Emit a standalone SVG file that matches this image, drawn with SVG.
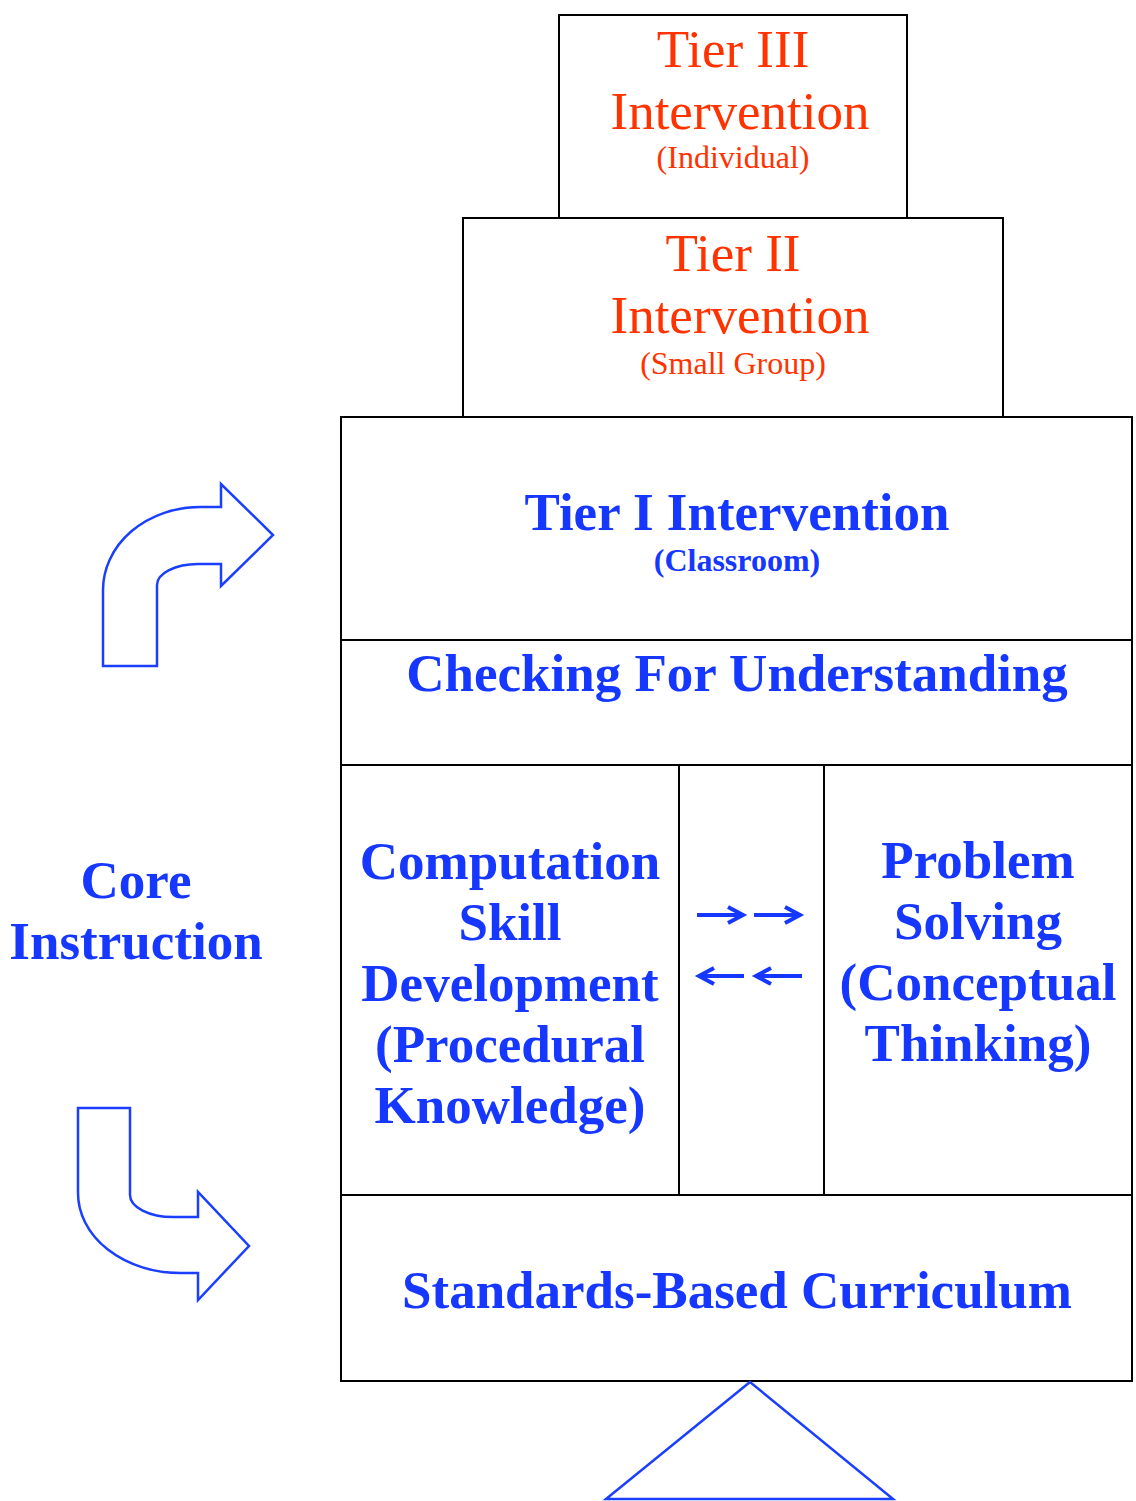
<svg xmlns="http://www.w3.org/2000/svg" width="1136" height="1501" viewBox="0 0 1136 1501">
<style>
.box{fill:none;stroke:#000;stroke-width:2}
.red{font-family:"Liberation Serif",serif;fill:#ff3300;text-anchor:middle}
.blue{font-family:"Liberation Serif",serif;font-weight:bold;fill:#1637ff;text-anchor:middle}
.big{font-size:53px}
.small{font-size:32px}
.shape{fill:none;stroke:#1a3fff;stroke-width:2.5;stroke-linejoin:miter}
.sm{fill:none;stroke:#1637ff;stroke-width:4}
</style>
<rect width="1136" height="1501" fill="#fff"/>
<g id="tier3">
<rect class="box" x="559" y="15" width="348" height="203"/>
<text class="red big" x="733" y="67">Tier III</text>
<text class="red big" x="740" y="129">Intervention</text>
<text class="red small" x="733" y="168">(Individual)</text>
</g>
<g id="tier2">
<rect class="box" x="463" y="218" width="540" height="199"/>
<text class="red big" x="733" y="271">Tier II</text>
<text class="red big" x="740" y="333">Intervention</text>
<text class="red small" x="733" y="374">(Small Group)</text>
</g>
<g id="tier1">
<rect class="box" x="341" y="417" width="791" height="223"/>
<text class="blue big" x="737" y="530">Tier I Intervention</text>
<text class="blue small" x="737" y="571">(Classroom)</text>
</g>
<g id="checking">
<rect class="box" x="341" y="640" width="791" height="125"/>
<text class="blue big" x="737" y="691">Checking For Understanding</text>
</g>
<g id="computation">
<rect class="box" x="341" y="765" width="338" height="430"/>
<text class="blue big"><tspan x="510" y="879">Computation</tspan><tspan x="510" y="940">Skill</tspan><tspan x="510" y="1001">Development</tspan><tspan x="510" y="1062">(Procedural</tspan><tspan x="510" y="1123">Knowledge)</tspan></text>
</g>
<g id="middle">
<rect class="box" x="679" y="765" width="145" height="430"/>
</g>
<g id="problem">
<rect class="box" x="824" y="765" width="308" height="430"/>
<text class="blue big"><tspan x="978" y="878">Problem</tspan><tspan x="978" y="939">Solving</tspan><tspan x="978" y="1000">(Conceptual</tspan><tspan x="978" y="1061">Thinking)</tspan></text>
</g>
<g id="standards">
<rect class="box" x="341" y="1195" width="791" height="186"/>
<text class="blue big" x="737" y="1308">Standards-Based Curriculum</text>
</g>
<g id="core">
<text class="blue big"><tspan x="136" y="898">Core</tspan><tspan x="136" y="959">Instruction</tspan></text>
</g>
<g id="connectors">
<path class="shape" d="M103,666 L157,666 L157,585 A41 21 0 0 1 198,564 L221,564 L221,586 L273,535 L221,484 L221,507 L200,507 A97 83 0 0 0 103,590 Z"/>
<path class="shape" d="M78,1108 L130,1108 L130,1195 A43 22 0 0 0 173,1217 L198,1217 L198,1192 L249,1246 L198,1300 L198,1273 L180,1273 A102 80 0 0 1 78,1193 Z"/>
<path class="shape" d="M750,1382 L606,1499 L893,1499 Z"/>
<path class="sm" d="M697,915 L743,915 M728,907 L743,915 L728,923 M754,915 L800,915 M785,907 L800,915 L785,923"/>
<path class="sm" d="M699,976 L744,976 M714,968 L699,976 L714,984 M756,976 L802,976 M771,968 L756,976 L771,984"/>
</g>
</svg>
